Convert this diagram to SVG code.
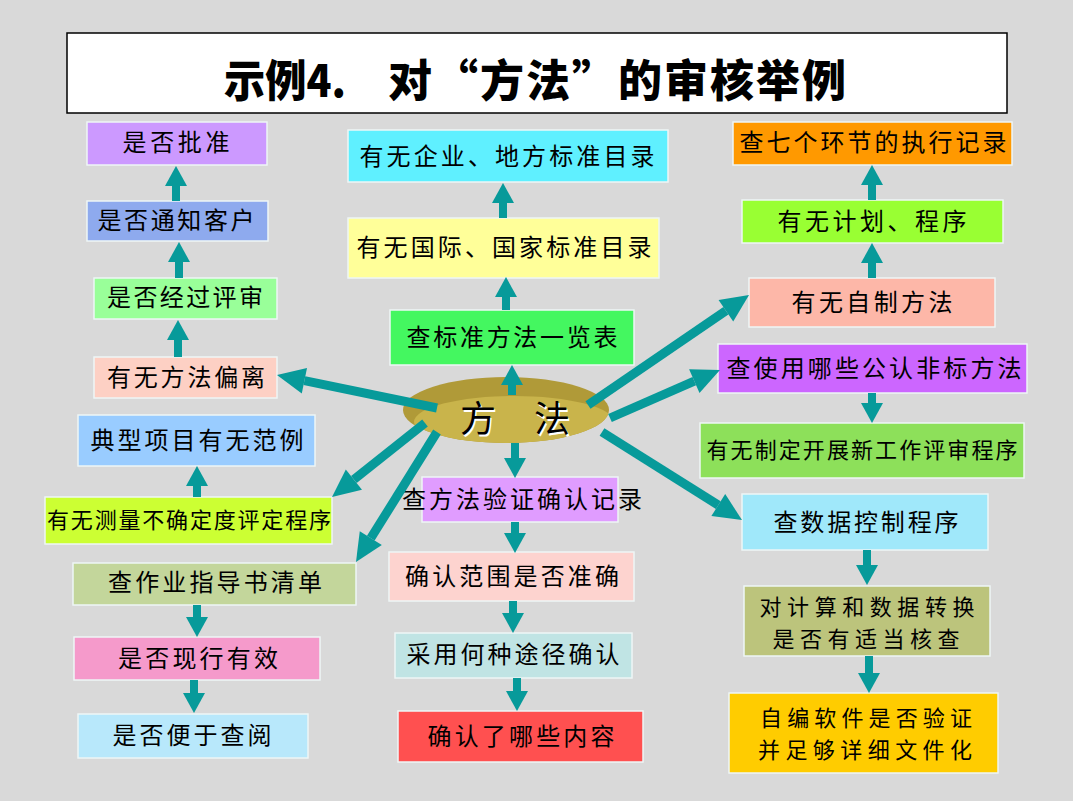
<svg xmlns="http://www.w3.org/2000/svg" width="1073" height="801" viewBox="0 0 1073 801">
<defs>
<style>
.bx{stroke:#eef6f6;stroke-width:1.5}
.t{font-family:"Noto Sans CJK SC","Noto Sans CJK JP",sans-serif;font-size:24px;fill:#000;text-anchor:middle;dominant-baseline:central}
.s{font-size:22px}
.v{stroke:#079a9a;stroke-width:8;fill:none}
.d{stroke:#079a9a;stroke-width:9;fill:none}
</style>
<marker id="hv" markerUnits="userSpaceOnUse" viewBox="0 -11 20 22" markerWidth="20" markerHeight="22" refX="0" refY="0" orient="auto" overflow="visible"><path d="M0,-11 L20,0 L0,11 z" fill="#079a9a"/></marker>
<marker id="hd" markerUnits="userSpaceOnUse" viewBox="0 -13 28 26" markerWidth="28" markerHeight="26" refX="0" refY="0" orient="auto" overflow="visible"><path d="M0,-13 L28,0 L0,13 z" fill="#079a9a"/></marker>
<clipPath id="ec"><ellipse cx="506" cy="410" rx="103" ry="33"/></clipPath>
</defs>
<rect x="0" y="0" width="1073" height="801" fill="#d9d9d9"/>
<g id="title">
<rect x="67" y="33" width="940" height="80" fill="#fff" stroke="#000" stroke-width="1.5"/>
<text x="224" y="78" style="font-family:'Noto Sans CJK SC',sans-serif;font-size:44px;font-weight:900;dominant-baseline:central" textLength="122" lengthAdjust="spacingAndGlyphs">示例4.</text>
<text x="388" y="78" style="font-family:'Noto Sans CJK SC',sans-serif;font-size:44px;font-weight:900;dominant-baseline:central" textLength="458" lengthAdjust="spacing">对“方法”的审核举例</text>
</g>
<g id="center">
<ellipse cx="506" cy="410" rx="103" ry="33" fill="#b09a38"/>
<ellipse cx="514" cy="422" rx="100" ry="26" fill="#c9b44b" clip-path="url(#ec)"/>
<text class="t" x="479.5" y="417.5" style="font-size:36px;fill:#fff">方</text>
<text class="t" x="553.5" y="417.5" style="font-size:36px;fill:#fff">法</text>
<text class="t" x="478" y="416" style="font-size:36px">方</text>
<text class="t" x="552" y="416" style="font-size:36px">法</text>
</g>
<g id="n1"><rect class="bx" x="87" y="122" width="180" height="43" fill="#cc99ff"/><text class="t" x="176" y="140.5" textLength="107">是否批准</text></g>
<g id="n2"><rect class="bx" x="87" y="201" width="181" height="40" fill="#8eaaee"/><text class="t" x="176" y="218.5" textLength="157">是否通知客户</text></g>
<g id="n3"><rect class="bx" x="94" y="278" width="183" height="41" fill="#99ff99"/><text class="t" x="185" y="295.5" textLength="156">是否经过评审</text></g>
<g id="n4"><rect class="bx" x="94" y="357" width="183" height="41" fill="#fdd0c4"/><text class="t" x="186" y="375.5" textLength="158">有无方法偏离</text></g>
<g id="n5"><rect class="bx" x="78" y="415" width="237" height="51" fill="#99ccff"/><text class="t" x="197" y="438.5" textLength="213">典型项目有无范例</text></g>
<g id="n6"><rect class="bx" x="45" y="497" width="287" height="47" fill="#ccff33"/><text class="t s" x="189" y="517.5" textLength="284">有无测量不确定度评定程序</text></g>
<g id="n7"><rect class="bx" x="73" y="563" width="283" height="42" fill="#c3d69b"/><text class="t" x="215" y="580.5" textLength="214">查作业指导书清单</text></g>
<g id="n8"><rect class="bx" x="74" y="637" width="246" height="43" fill="#f59acb"/><text class="t" x="198" y="656.5" textLength="160">是否现行有效</text></g>
<g id="n9"><rect class="bx" x="78" y="714" width="230" height="44" fill="#b8e8fb"/><text class="t" x="192" y="733.5" textLength="159">是否便于查阅</text></g>
<g id="n10"><rect class="bx" x="348" y="130" width="320" height="52" fill="#5ff0ff"/><text class="t" x="507" y="154.5" textLength="295">有无企业、地方标准目录</text></g>
<g id="n11"><rect class="bx" x="348" y="218" width="311" height="60" fill="#ffff99"/><text class="t" x="504" y="245.5" textLength="295">有无国际、国家标准目录</text></g>
<g id="n12"><rect class="bx" x="390" y="310" width="244" height="55" fill="#44f760"/><text class="t" x="512" y="335.5" textLength="211">查标准方法一览表</text></g>
<g id="n13"><rect class="bx" x="422" y="477" width="196" height="45" fill="#e09cff"/><text class="t" x="522" y="497.5" textLength="240">查方法验证确认记录</text></g>
<g id="n14"><rect class="bx" x="389" y="552" width="245" height="49" fill="#fdd3cf"/><text class="t" x="512" y="574.5" textLength="214">确认范围是否准确</text></g>
<g id="n15"><rect class="bx" x="395" y="633" width="237" height="45" fill="#c0e4e4"/><text class="t" x="513" y="652.5" textLength="213">采用何种途径确认</text></g>
<g id="n16"><rect class="bx" x="398" y="711" width="245" height="51" fill="#ff5050"/><text class="t" x="521" y="734.5" textLength="187">确认了哪些内容</text></g>
<g id="n17"><rect class="bx" x="733" y="122" width="279" height="43" fill="#ff9900"/><text class="t" x="873" y="140.5" textLength="267">查七个环节的执行记录</text></g>
<g id="n18"><rect class="bx" x="742" y="200" width="261" height="43" fill="#99ff33"/><text class="t" x="872" y="219.5" textLength="189">有无计划、程序</text></g>
<g id="n19"><rect class="bx" x="749" y="278" width="246" height="49" fill="#fdb7a8"/><text class="t" x="872" y="300.5" textLength="161">有无自制方法</text></g>
<g id="n20"><rect class="bx" x="718" y="344" width="309" height="49" fill="#cc66ff"/><text class="t" x="874" y="366.5" textLength="295">查使用哪些公认非标方法</text></g>
<g id="n21"><rect class="bx" x="700" y="423" width="324" height="55" fill="#8de05a"/><text class="t s" x="862" y="447.5" textLength="311">有无制定开展新工作评审程序</text></g>
<g id="n22"><rect class="bx" x="742" y="494" width="246" height="56" fill="#a0e8fa"/><text class="t" x="866" y="520.5" textLength="185">查数据控制程序</text></g>
<g id="n23"><rect class="bx" x="744" y="586" width="246" height="70" fill="#bcc47c"/><text class="t s" x="867" y="604.5" textLength="215">对计算和数据转换</text><text class="t s" x="866" y="636.5" textLength="187">是否有适当核查</text></g>
<g id="n24"><rect class="bx" x="729" y="693" width="269" height="80" fill="#ffcc00"/><text class="t s" x="866" y="715.5" textLength="212">自编软件是否验证</text><text class="t s" x="865" y="747.5" textLength="214">并足够详细文件化</text></g>
<g id="connectors">
<line class="v" x1="176" y1="201" x2="176" y2="186" marker-end="url(#hv)"/>
<line class="v" x1="179" y1="278" x2="179" y2="262" marker-end="url(#hv)"/>
<line class="v" x1="178" y1="357" x2="178" y2="340" marker-end="url(#hv)"/>
<line class="v" x1="197" y1="497" x2="197" y2="486" marker-end="url(#hv)"/>
<line class="v" x1="197" y1="605" x2="197" y2="617" marker-end="url(#hv)"/>
<line class="v" x1="194" y1="680" x2="194" y2="693" marker-end="url(#hv)"/>
<line class="v" x1="506" y1="310" x2="506" y2="297" marker-end="url(#hv)"/>
<line class="v" x1="503" y1="218" x2="503" y2="203" marker-end="url(#hv)"/>
<line class="v" x1="512" y1="395" x2="512" y2="385" marker-end="url(#hv)"/>
<line class="v" x1="515" y1="443" x2="515" y2="458" marker-end="url(#hv)"/>
<line class="v" x1="515" y1="522" x2="515" y2="533" marker-end="url(#hv)"/>
<line class="v" x1="513" y1="601" x2="513" y2="613" marker-end="url(#hv)"/>
<line class="v" x1="517" y1="678" x2="517" y2="691" marker-end="url(#hv)"/>
<line class="v" x1="872" y1="200" x2="872" y2="185" marker-end="url(#hv)"/>
<line class="v" x1="872" y1="278" x2="872" y2="263" marker-end="url(#hv)"/>
<line class="v" x1="872" y1="393" x2="872" y2="403" marker-end="url(#hv)"/>
<line class="v" x1="867" y1="550" x2="867" y2="565" marker-end="url(#hv)"/>
<line class="v" x1="869" y1="656" x2="869" y2="673" marker-end="url(#hv)"/>
<line class="d" x1="437" y1="408" x2="304.4" y2="380.7" marker-end="url(#hd)"/>
<line class="d" x1="425" y1="423" x2="353.9" y2="479.6" marker-end="url(#hd)"/>
<line class="d" x1="437" y1="432" x2="370.8" y2="538.2" marker-end="url(#hd)"/>
<line class="d" x1="588" y1="405" x2="725.9" y2="310.8" marker-end="url(#hd)"/>
<line class="d" x1="610" y1="418" x2="694.3" y2="381.2" marker-end="url(#hd)"/>
<line class="d" x1="602" y1="432" x2="718.3" y2="505.1" marker-end="url(#hd)"/>
</g>
</svg>
